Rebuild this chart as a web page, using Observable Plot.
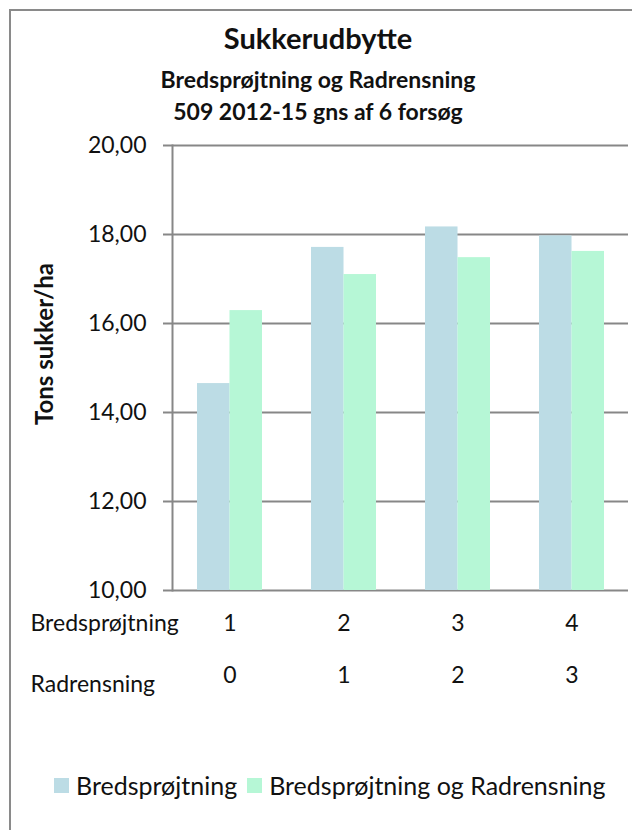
<!DOCTYPE html>
<html>
<head>
<meta charset="utf-8">
<script src="https://cdn.jsdelivr.net/npm/d3@7"></script>
<script src="https://cdn.jsdelivr.net/npm/@observablehq/plot@0.6"></script>
<style>
  html, body { margin: 0; padding: 0; background: #fff; }
  #page { position: relative; width: 632px; height: 830px; overflow: hidden; font-family: Lato, "Open Sans", sans-serif; color: #111; }
  #border { position: absolute; left: 9px; top: 9px; width: 700px; height: 900px; border-left: 2px solid #8a8a8a; border-top: 2px solid #8a8a8a; }
  .t { position: absolute; left: 0; width: 636px; text-align: center; font-weight: bold; }
  #t1 { top: 20px; font-size: 29px; }
  #t2 { top: 65px; font-size: 23px; }
  #t3 { top: 97px; font-size: 23px; }
  #chart { position: absolute; left: 0; top: 130px; }
  #legend { position: absolute; top: 770px; left: 54px; font-size: 25px; display: flex; align-items: center; white-space: nowrap; }
  .sw { display: inline-block; width: 15px; height: 15px; margin-right: 7px; }
  .item { display: flex; align-items: center; margin-right: 10px; }
  [aria-label="y-title"] text { letter-spacing: 2.2px; }
</style>
</head>
<body>
<div id="page">
  <div id="border"></div>
  <div id="t1" class="t">Sukkerudbytte</div>
  <div id="t2" class="t">Bredsprøjtning og Radrensning</div>
  <div id="t3" class="t">509 2012-15 gns af 6 forsøg</div>
  <div id="chart"></div>
  <div id="legend"></div>
</div>
<script>
// Treatment groups and their two-row category labels
const groups = ["A", "B", "C", "D"];
const bredsprojtningLabels = ["1", "2", "3", "4"];
const radrensningLabels = ["0", "1", "2", "3"];

// Sugar yield, tons sugar per hectare
const seriesNames = ["Bredsprøjtning", "Bredsprøjtning og Radrensning"];
const bredsprojtningValues = [14.65, 17.71, 18.17, 17.97];
const kombiValues = [16.29, 17.10, 17.48, 17.62];

const yDomain = [10, 20];
const yTicks = [10, 12, 14, 16, 18, 20];
const colors = ["#bcdce5", "#b6f7d6"];

const rows = groups.flatMap((g, i) => [
  {group: g, series: seriesNames[0], value: bredsprojtningValues[i]},
  {group: g, series: seriesNames[1], value: kombiValues[i]}
]);

const W = 632, H = 580, ML = 172, MR = 4, MT = 15, MB = 120;
const padInner = 0.43;
const step = (W - ML - MR) / groups.length;
const half = step * (1 - padInner) / 2;
const grid = "#878787";
const fmt = d => d.toFixed(2).replace(".", ",");

const chart = Plot.plot({
  width: W, height: H,
  marginLeft: ML, marginRight: MR, marginTop: MT, marginBottom: MB,
  style: {fontFamily: "Lato, 'Open Sans', sans-serif", fontSize: "22px", color: "#111", background: "transparent", overflow: "visible"},
  x: {domain: groups, paddingInner: padInner, paddingOuter: padInner / 2, axis: null},
  y: {domain: yDomain, axis: null},
  color: {domain: seriesNames, range: colors},
  marks: [
    Plot.ruleY(yTicks, {y: d => d, stroke: grid, strokeWidth: 2}),
    // two bars per group: left half and right half of the band
    Plot.barY(rows.filter(d => d.series === seriesNames[0]), {
      x: "group", y1: yDomain[0], y2: "value", fill: "series", insetRight: half
    }),
    Plot.barY(rows.filter(d => d.series === seriesNames[1]), {
      x: "group", y1: yDomain[0], y2: "value", fill: "series", insetLeft: half
    }),
    Plot.axisY(yTicks, {tickSize: 9, tickPadding: 17, tickFormat: fmt, stroke: grid, strokeWidth: 2, label: null, fontSize: 23}),
    Plot.frame({anchor: "left", stroke: grid, strokeWidth: 2}),
    Plot.text(["Tons sukker/ha"], {frameAnchor: "left", textAnchor: "middle", rotate: -90, dx: -127, dy: -24, fontWeight: "bold", fontSize: 24, ariaLabel: "y-title"}),
    Plot.text(groups, {x: d => d, text: (d, i) => bredsprojtningLabels[i], frameAnchor: "bottom", dy: 40, fontSize: 23}),
    Plot.text(groups, {x: d => d, text: (d, i) => radrensningLabels[i], frameAnchor: "bottom", dy: 92, fontSize: 23}),
    Plot.text(["Bredsprøjtning"], {frameAnchor: "bottom-left", dx: -142, dy: 40, textAnchor: "start", fontSize: 23}),
    Plot.text(["Radrensning"], {frameAnchor: "bottom-left", dx: -142, dy: 101, textAnchor: "start", fontSize: 23})
  ]
});
document.getElementById("chart").append(chart);

// Legend built from the same series and colours
const legend = document.getElementById("legend");
seriesNames.forEach((name, i) => {
  const item = document.createElement("span");
  item.className = "item";
  const sw = document.createElement("span");
  sw.className = "sw";
  sw.style.background = colors[i];
  item.append(sw, document.createTextNode(name));
  legend.append(item);
});
</script>
</body>
</html>
